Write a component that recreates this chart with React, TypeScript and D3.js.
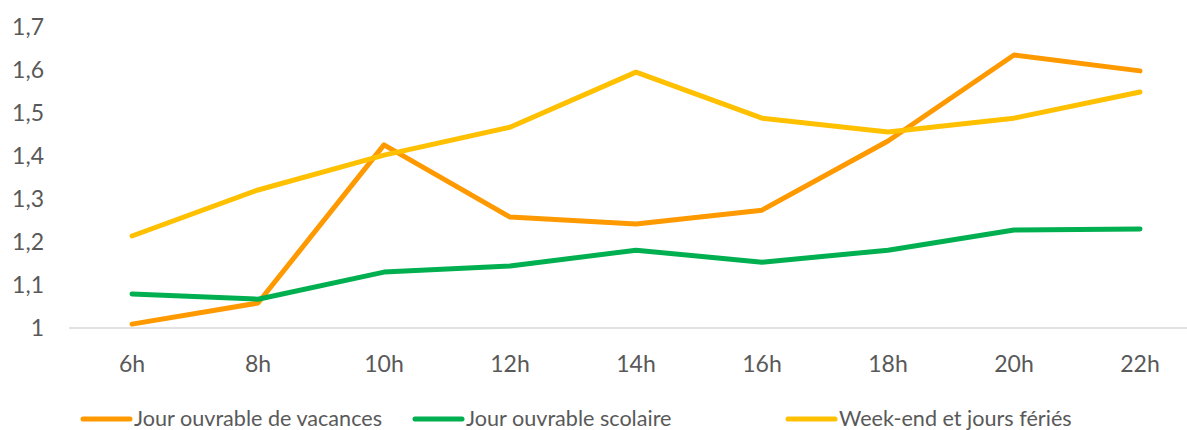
import React from "react";
import * as d3 from "d3";

const hours = ["6h", "8h", "10h", "12h", "14h", "16h", "18h", "20h", "22h"];
const vacances = [1.009, 1.058, 1.426, 1.258, 1.242, 1.274, 1.435, 1.635, 1.598];
const scolaire = [1.079, 1.067, 1.13, 1.144, 1.181, 1.153, 1.181, 1.228, 1.23];
const weekend = [1.214, 1.321, 1.402, 1.467, 1.595, 1.488, 1.456, 1.488, 1.549];
const yTicks = [1, 1.1, 1.2, 1.3, 1.4, 1.5, 1.6, 1.7];

const seriesNames = ["Jour ouvrable de vacances", "Jour ouvrable scolaire", "Week-end et jours fériés"];
const colors = ["#FF9900", "#00B050", "#FFC000"];

const W = 1187;
const H = 430;
const FONT = "Lato, 'Open Sans', sans-serif";

export default function App() {
  const x = d3.scaleBand<string>().domain(hours).range([69, 69 + 126 * hours.length]);
  const y = d3.scaleLinear().domain([1, 1.7]).range([328, 27]);
  const cx = (h: string) => (x(h) ?? 0) + x.bandwidth() / 2;

  const line = d3
    .line<number>()
    .x((_, i) => cx(hours[i]))
    .y((v) => y(v));

  const series = [vacances, scolaire, weekend];
  const fmt = (v: number) => (v === 1 ? "1" : v.toFixed(1).replace(".", ","));

  const legendX = [83, 415, 788];

  return (
    <svg width={W} height={H} style={{ display: "block", position: "absolute", left: 0, top: 0 }}>
      <rect width={W} height={H} fill="#fff" />
      {yTicks.map((t) => (
        <text
          key={t}
          x={44}
          y={y(t)}
          dy="0.35em"
          textAnchor="end"
          fontFamily={FONT}
          fontSize={23}
          fill="#595959"
        >
          {fmt(t)}
        </text>
      ))}
      <line x1={69} x2={W} y1={y(1)} y2={y(1)} stroke="#D9D9D9" strokeWidth={1.5} />
      {hours.map((h) => (
        <text
          key={h}
          x={cx(h)}
          y={372}
          textAnchor="middle"
          fontFamily={FONT}
          fontSize={23}
          fill="#595959"
        >
          {h}
        </text>
      ))}
      {series.map((s, i) => (
        <path
          key={i}
          d={line(s) ?? ""}
          fill="none"
          stroke={colors[i]}
          strokeWidth={5}
          strokeLinecap="round"
          strokeLinejoin="round"
        />
      ))}
      {seriesNames.map((n, i) => (
        <g key={n}>
          <line
            x1={legendX[i]}
            x2={legendX[i] + 47}
            y1={419}
            y2={419}
            stroke={colors[i]}
            strokeWidth={5}
            strokeLinecap="round"
          />
          <text x={legendX[i] + 51} y={426} fontFamily={FONT} fontSize={21.6} fill="#595959">
            {n}
          </text>
        </g>
      ))}
    </svg>
  );
}
